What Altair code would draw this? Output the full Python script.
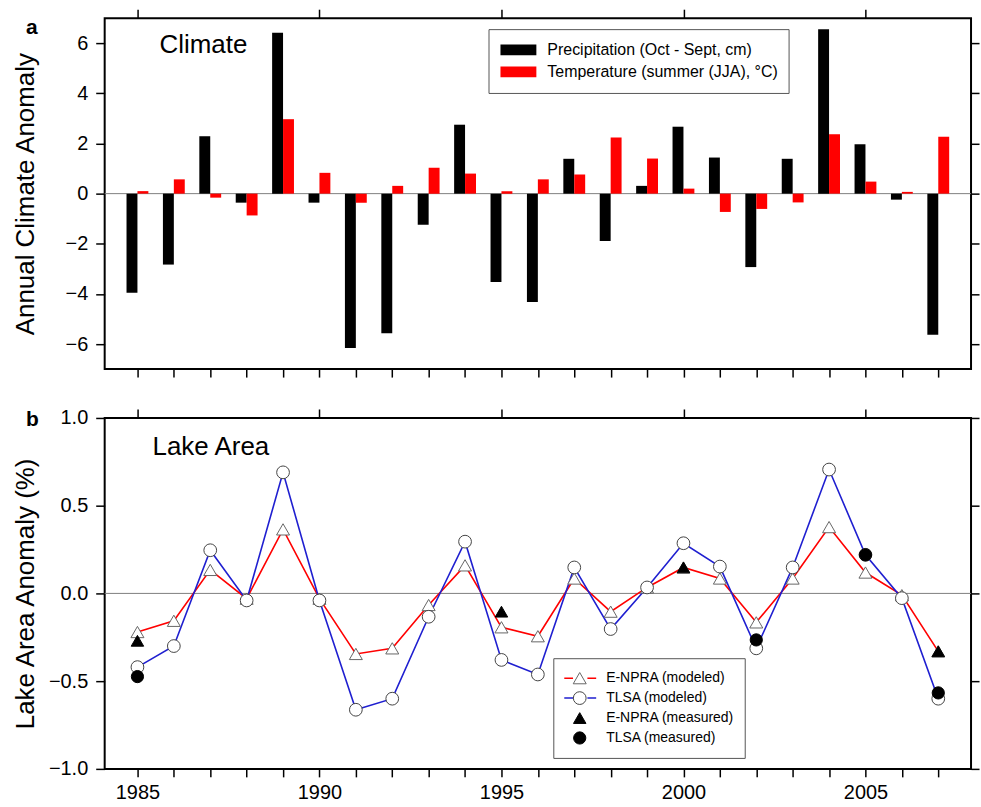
import altair as alt
import pandas as pd

# ---------------- data ----------------
years = list(range(1985, 2008))
precip_cm = [-3.95, -2.83, 2.29, -0.36, 6.42, -0.36, -6.16, -5.57, -1.24, 2.75, -3.53, -4.32,
             1.39, -1.89, 0.31, 2.67, 1.44, -2.93, 1.39, 6.56, 1.97, -0.24, -5.63]
temp_c = [0.10, 0.57, -0.16, -0.87, 2.97, 0.83, -0.36, 0.31, 1.03, 0.80, 0.10, 0.57,
          0.76, 2.24, 1.40, 0.20, -0.73, -0.61, -0.35, 2.37, 0.48, 0.07, 2.27]

enpra_modeled = [-0.22, -0.156, 0.134, -0.03, 0.365, -0.03, -0.345, -0.313, -0.066, 0.16, -0.193, -0.244,
                 0.085, -0.104, 0.034, 0.148, 0.085, -0.165, 0.085, 0.378, 0.119, -0.01, -0.33]
tlsa_modeled = [-0.42, -0.30, 0.246, -0.04, 0.69, -0.04, -0.663, -0.60, -0.133, 0.295, -0.379, -0.462,
                0.148, -0.203, 0.034, 0.286, 0.153, -0.313, 0.148, 0.706, 0.22, -0.027, -0.60]
enpra_meas_years = [1985, 1995, 2000, 2007]
enpra_measured = [-0.27, -0.104, 0.148, -0.33]
tlsa_meas_years = [1985, 2002, 2005, 2007]
tlsa_measured = [-0.474, -0.265, 0.22, -0.567]

P_LAB = "Precipitation (Oct - Sept, cm)"
T_LAB = "Temperature (summer (JJA), \u00b0C)"
S_LAB = ["E-NPRA (modeled)", "TLSA (modeled)", "E-NPRA (measured)", "TLSA (measured)"]

x_ticks = years
x_major = [1985, 1990, 1995, 2000, 2005]
ya_ticks = [-6, -4, -2, 0, 2, 4, 6]
yb_ticks = [-1.0, -0.5, 0.0, 0.5, 1.0]
XDOM = [1984.1, 2007.9]

FONT = "Liberation Sans"
W, H = 869, 352

bars_df = pd.DataFrame({
    "year": years + years,
    "variable": [P_LAB] * len(years) + [T_LAB] * len(years),
    "value": precip_cm + temp_c,
})
lines_df = pd.DataFrame({
    "year": years + years,
    "model": [S_LAB[0]] * len(years) + [S_LAB[1]] * len(years),
    "value": enpra_modeled + tlsa_modeled,
})
points_df = pd.DataFrame({
    "year": years + years + enpra_meas_years + tlsa_meas_years,
    "series": [S_LAB[0]] * len(years) + [S_LAB[1]] * len(years)
              + [S_LAB[2]] * len(enpra_meas_years) + [S_LAB[3]] * len(tlsa_meas_years),
    "value": enpra_modeled + tlsa_modeled + enpra_measured + tlsa_measured,
})
zero_df = pd.DataFrame({"v": [0]})

# ---------------- shared pieces ----------------
xs = alt.Scale(domain=XDOM, nice=False, zero=False)
ys_a = alt.Scale(domain=[-7, 7], nice=False)
ys_b = alt.Scale(domain=[-1, 1], nice=False)


def bottom_axis(show_labels):
    return alt.Axis(orient="bottom", values=x_ticks, format="d", tickSize=8,
                    labels=show_labels, labelExpr="datum.value % 5 == 0 ? datum.label : ''",
                    labelPadding=6, labelOverlap=False, title=None)


top_axis = alt.Axis(orient="top", values=x_major, tickSize=9, labels=False, title=None)


def left_axis(vals, title, fmt=None):
    kw = dict(orient="left", values=vals, tickSize=9, labelPadding=8, labelOverlap=False,
              title=title, titleX=-79, titleY=H / 2, titleAngle=270, titleAlign="center",
              titleBaseline="middle", titleFontSize=26, titleFontWeight="normal")
    if fmt:
        kw["format"] = fmt
    return alt.Axis(**kw)


def right_axis(vals):
    return alt.Axis(orient="right", values=vals, tickSize=8, labels=False, title=None)


def zero_layer(yscale, yvals):
    return alt.Chart(zero_df).mark_rule(color="#7f7f7f", strokeWidth=1).encode(
        y=alt.Y("v:Q", scale=yscale, axis=right_axis(yvals)),
        x=alt.X(datum=XDOM[0], type="quantitative", scale=xs, axis=top_axis),
        x2=alt.datum(XDOM[1]),
    )


def label_layer(text, x, y, size, weight="normal"):
    return alt.Chart(pd.DataFrame({"label": [text]})).mark_text(
        align="left", baseline="alphabetic", font=FONT, fontSize=size, fontWeight=weight, color="black"
    ).encode(text="label:N", x=alt.value(x), y=alt.value(y))


# ---------------- panel a ----------------
leg_a = alt.Legend(title=None, orient="none", legendX=385, legendY=11, direction="vertical",
                   symbolType="M-1,-0.3H1V0.3H-1Z", symbolSize=1296, symbolStrokeWidth=0,
                   labelFont=FONT, labelFontSize=16, labelColor="black", labelOffset=11,
                   symbolOffset=2, clipHeight=21.5, rowPadding=0, padding=10,
                   strokeColor="#555555", fillColor="white", labelLimit=400)

bars = alt.Chart(bars_df).transform_calculate(
    x_start="datum.year + (datum.variable == '%s' ? -0.3 : 0)" % P_LAB,
    x_end="datum.year + (datum.variable == '%s' ? 0 : 0.3)" % P_LAB,
).mark_rect().encode(
    x=alt.X("x_start:Q", scale=xs, axis=bottom_axis(False)),
    x2="x_end:Q",
    y=alt.Y("value:Q", scale=ys_a, axis=left_axis(ya_ticks, "Annual Climate Anomaly")),
    y2=alt.datum(0),
    color=alt.Color("variable:N", scale=alt.Scale(domain=[P_LAB, T_LAB], range=["#000000", "#ff0000"]),
                    legend=leg_a),
)

panel_a = alt.layer(
    zero_layer(ys_a, ya_ticks),
    bars,
    label_layer("Climate", 55, 35, 26),
    label_layer("a", -79, 16, 21, "bold"),
).resolve_axis(x="independent", y="independent").properties(width=W, height=H)

# ---------------- panel b ----------------
leg_pts = alt.Legend(title=None, orient="none", legendX=450, legendY=241, direction="vertical",
                     clipHeight=20, rowPadding=0, padding=10, strokeColor="#555555",
                     labelFont=FONT, labelFontSize=14, labelColor="black", labelOffset=19,
                     symbolOffset=9, symbolStrokeWidth=1, labelLimit=300)
leg_lines = alt.Legend(title=None, orient="none", legendX=460, legendY=251, direction="vertical",
                       clipHeight=20, rowPadding=0, padding=0,
                       symbolType="M-1,0H-0.45M0.45,0H1", symbolSize=1024, symbolStrokeWidth=1.5,
                       labelExpr="''", labelFontSize=14)

lines = alt.Chart(lines_df).mark_line(strokeWidth=1.6).encode(
    x=alt.X("year:Q", scale=xs, axis=bottom_axis(True)),
    y=alt.Y("value:Q", scale=ys_b, axis=left_axis(yb_ticks, "Lake Area Anomaly (%)", ".1f")),
    color=alt.Color("model:N", scale=alt.Scale(domain=S_LAB[:2], range=["#ff0000", "#1f1fd0"]),
                    legend=leg_lines),
)

points = alt.Chart(points_df).mark_point(opacity=1, fillOpacity=1, strokeWidth=1).encode(
    x=alt.X("year:Q", scale=xs, axis=None),
    y=alt.Y("value:Q", scale=ys_b, axis=None),
    shape=alt.Shape("series:N", scale=alt.Scale(domain=S_LAB, range=["triangle-up", "circle", "triangle-up", "circle"]),
                    legend=leg_pts),
    fill=alt.Fill("series:N", scale=alt.Scale(domain=S_LAB, range=["#ffffff", "#ffffff", "#000000", "#000000"]),
                  legend=leg_pts),
    stroke=alt.Stroke("series:N", scale=alt.Scale(domain=S_LAB, range=["#666666", "#444444", "#000000", "#000000"]),
                      legend=leg_pts),
    size=alt.Size("series:N", scale=alt.Scale(domain=S_LAB, range=[170, 150, 200, 225]), legend=leg_pts),
)

panel_b = alt.layer(
    zero_layer(ys_b, yb_ticks),
    lines,
    points,
    label_layer("Lake Area", 48, 37, 26),
    label_layer("b", -79, 8, 21, "bold"),
).resolve_axis(x="independent", y="independent").properties(width=W, height=H)

chart = alt.vconcat(panel_a, panel_b, spacing=28).resolve_scale(
    color="independent", shape="independent", fill="independent",
    stroke="independent", size="independent",
).resolve_legend(
    color="independent", shape="independent", fill="independent",
    stroke="independent", size="independent",
).properties(
    padding={"left": 12, "top": 6, "right": 0, "bottom": 0},
    background="white",
).configure_view(stroke="black", strokeWidth=2).configure_axis(
    domain=False, grid=False, tickColor="black", tickWidth=1.5,
    labelFont=FONT, labelFontSize=20, labelColor="black",
    titleFont=FONT, titleColor="black",
).configure_text(font=FONT)

chart.save("out.html", embed_options={"renderer": "svg", "actions": False})
